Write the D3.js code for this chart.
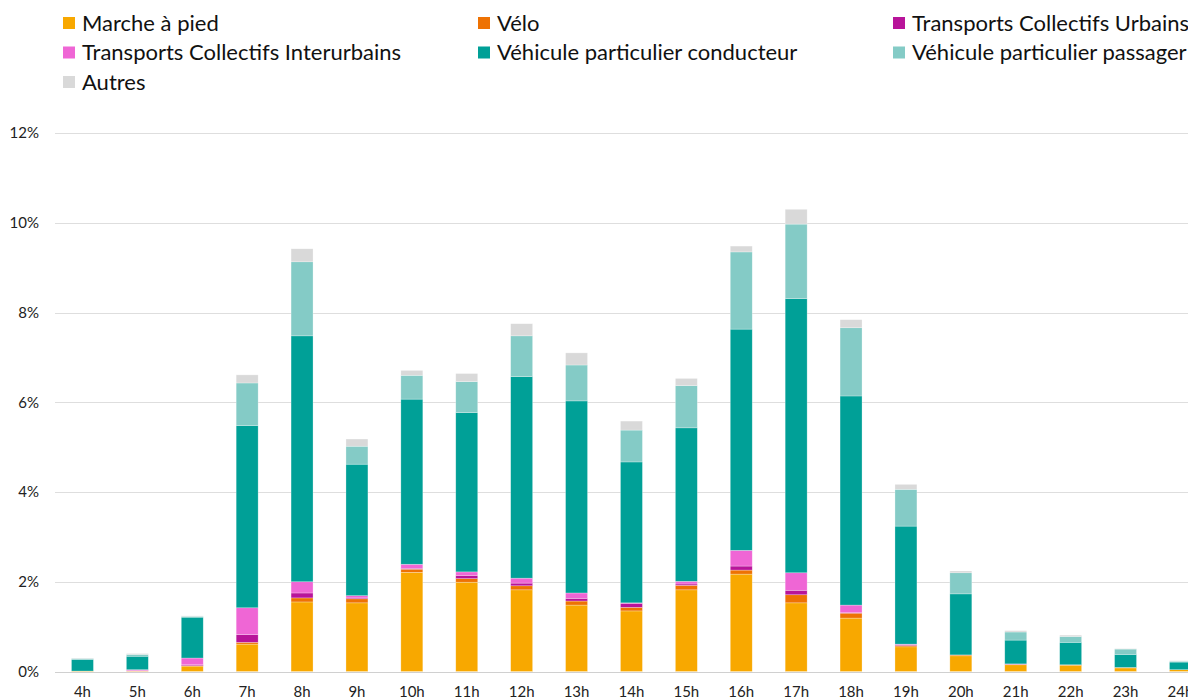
<!DOCTYPE html>
<html>
<head>
<meta charset="utf-8">
<script src="https://cdn.jsdelivr.net/npm/d3@7"></script>
<style>
  html, body { margin: 0; padding: 0; background: #fff; overflow: hidden; }
  svg { display: block; font-family: Lato, "Open Sans", sans-serif; }
</style>
</head>
<body>
<svg id="chart" width="1188" height="700"></svg>
<script>
// Hour of departure
const hours = ["4h","5h","6h","7h","8h","9h","10h","11h","12h","13h","14h","15h","16h","17h","18h","19h","20h","21h","22h","23h","24h"];

// Share of daily trips (%) by mode, per hour
const marche = [0.01,0.01,0.12,0.61,1.55,1.53,2.21,1.99,1.82,1.48,1.35,1.82,2.17,1.53,1.19,0.55,0.35,0.15,0.14,0.08,0.04];
const velo   = [0.00,0.00,0.01,0.04,0.09,0.09,0.07,0.08,0.09,0.09,0.08,0.10,0.09,0.18,0.11,0.03,0.02,0.01,0.01,0.01,0.00];
const tcu    = [0.00,0.01,0.02,0.17,0.11,0.02,0.02,0.07,0.06,0.06,0.09,0.03,0.09,0.10,0.01,0.02,0.00,0.01,0.00,0.00,0.00];
const tci    = [0.00,0.02,0.15,0.60,0.25,0.05,0.09,0.08,0.11,0.12,0.01,0.06,0.35,0.39,0.17,0.01,0.00,0.00,0.00,0.00,0.00];
const vpc    = [0.26,0.30,0.91,4.06,5.48,2.93,3.68,3.55,4.49,4.28,3.14,3.42,4.93,6.11,4.66,2.63,1.36,0.53,0.50,0.29,0.17];
const vpp    = [0.02,0.04,0.02,0.95,1.65,0.40,0.53,0.69,0.91,0.80,0.71,0.94,1.72,1.66,1.52,0.82,0.47,0.18,0.13,0.12,0.02];
const autres = [0.01,0.02,0.01,0.18,0.29,0.16,0.11,0.18,0.27,0.27,0.20,0.16,0.13,0.33,0.18,0.11,0.04,0.03,0.03,0.01,0.01];

const seriesNames = ["Marche à pied","Vélo","Transports Collectifs Urbains","Transports Collectifs Interurbains","Véhicule particulier conducteur","Véhicule particulier passager","Autres"];
const seriesValues = [marche, velo, tcu, tci, vpc, vpp, autres];
const seriesColors = ["#F8A800","#EE7203","#B8149A","#EF66D5","#00A097","#84CBC6","#D9D9D9"];

const yTicks = [0,2,4,6,8,10,12];

const svg = d3.select("#chart");

// Build rows for the stack layout
const keys = seriesNames;
const rows = hours.map((h, i) => {
  const r = { hour: h };
  keys.forEach((k, j) => { r[k] = seriesValues[j][i]; });
  return r;
});
const stacked = d3.stack().keys(keys)(rows);

const left = 55;
const step = 54.9;
const x = d3.scaleBand()
  .domain(hours)
  .range([left, left + step * hours.length])
  .paddingInner(0.6)
  .paddingOuter(0.3);

const y = d3.scaleLinear().domain([0, 12]).range([671.5, 133]);

// Horizontal gridlines
svg.append("g")
  .selectAll("line")
  .data(yTicks)
  .join("line")
  .attr("x1", left)
  .attr("x2", 1188)
  .attr("y1", d => Math.round(y(d)) + 0.5)
  .attr("y2", d => Math.round(y(d)) + 0.5)
  .attr("stroke", d => d === 0 ? "#D0D0D0" : "#DEDEDE")
  .attr("stroke-width", 1);

// Y axis labels
svg.append("g")
  .selectAll("text")
  .data(yTicks)
  .join("text")
  .attr("x", 39)
  .attr("y", d => y(d))
  .attr("dy", "0.35em")
  .attr("text-anchor", "end")
  .attr("font-size", 15)
  .attr("fill", "#222")
  .text(d => d + "%");

// Stacked bars
svg.append("g")
  .selectAll("g")
  .data(stacked)
  .join("g")
  .attr("fill", (d, i) => seriesColors[i])
  .selectAll("rect")
  .data(d => d)
  .join("rect")
  .attr("x", d => x(d.data.hour))
  .attr("width", x.bandwidth())
  .attr("y", d => y(d[1]))
  .attr("height", d => Math.max(0, y(d[0]) - y(d[1])))
  .attr("stroke", "#fff")
  .attr("stroke-opacity", 0.45)
  .attr("stroke-width", 0.6);

// X axis labels
svg.append("g")
  .selectAll("text")
  .data(hours)
  .join("text")
  .attr("x", d => x(d) + x.bandwidth() / 2)
  .attr("y", 692)
  .attr("dy", "0.35em")
  .attr("text-anchor", "middle")
  .attr("font-size", 15)
  .attr("fill", "#222")
  .text(d => d);

// Legend: three columns
const legendCols = [63, 478, 893];
const legendRows = [23, 52.5, 82];
const legend = svg.append("g")
  .selectAll("g")
  .data(seriesNames)
  .join("g")
  .attr("transform", (d, i) => `translate(${legendCols[i % 3]},${legendRows[Math.floor(i / 3)]})`);

legend.append("rect")
  .attr("x", 0)
  .attr("y", -6)
  .attr("width", 12)
  .attr("height", 12)
  .attr("fill", (d, i) => seriesColors[i]);

legend.append("text")
  .attr("x", 19)
  .attr("y", 0)
  .attr("dy", "0.35em")
  .attr("font-size", 22)
  .attr("fill", "#111")
  .text(d => d);
</script>
</body>
</html>
